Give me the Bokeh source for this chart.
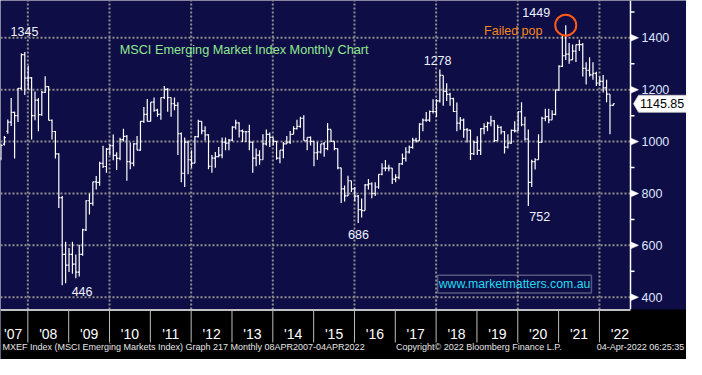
import pandas as pd
from bokeh.plotting import figure
from bokeh.models import Range1d, Label, BoxAnnotation, ColumnDataSource
from bokeh.embed import file_html
from bokeh.resources import INLINE
from bokeh.core.properties import value

# ---------------- data: MXEF monthly OHLC, Apr-2007 .. Apr-2022 ----------------
first_month = "2007-04-01"
open_px = [
    935, 990, 1040, 1075, 1113, 1100, 1205, 1335, 1245,                       # 2007
    1246, 1100, 1160, 1104, 1190, 1212, 1082, 1039, 953, 784, 565, 524,       # 2008
    565, 528, 497, 565, 660, 772, 762, 845, 843, 916, 904, 971,               # 2009
    984, 947, 935, 1008, 1020, 923, 917, 991, 967, 1078, 1105, 1078,          # 2010
    1152, 1121, 1105, 1170, 1201, 1170, 1146, 1140, 1031, 878, 998, 930,      # 2011
    917, 1019, 1078, 1041, 1026, 905, 936, 942, 948, 998, 994, 1006,          # 2012
    1056, 1072, 1041, 1038, 1038, 998, 936, 948, 930, 991, 1028, 1016,        # 2013
    1001, 936, 967, 991, 998, 1028, 1050, 1059, 1090, 1004, 1016, 1001,       # 2014
    957, 960, 991, 973, 1047, 1001, 973, 899, 818, 791, 849, 818,             # 2015
    790, 738, 734, 833, 837, 800, 825, 874, 898, 898, 898, 855,               # 2016
    862, 914, 935, 960, 978, 1006, 1003, 1067, 1083, 1083, 1116, 1116,        # 2017
    1157, 1255, 1194, 1182, 1166, 1116, 1071, 1083, 1046, 1044, 954, 997,     # 2018
    966, 1050, 1058, 1071, 1080, 1004, 1055, 1038, 979, 994, 1043, 1041,      # 2019
    1115, 1065, 1010, 843, 923, 930, 997, 1090, 1096, 1084, 1105, 1199,       # 2020
    1290, 1331, 1337, 1315, 1349, 1374, 1374, 1282, 1275, 1257, 1263, 1226,   # 2021
    1232, 1207, 1183, 1140,                                                   # 2022
]
high_px = [
    992, 1022, 1085, 1168, 1115, 1207, 1340, 1345, 1292,
    1249, 1193, 1168, 1195, 1252, 1214, 1085, 1041, 955, 790, 614, 590,
    614, 565, 602, 664, 774, 799, 845, 867, 922, 984, 975, 990,
    1027, 959, 1015, 1050, 1025, 997, 994, 1022, 1078, 1133, 1164, 1152,
    1170, 1127, 1170, 1214, 1207, 1170, 1170, 1152, 1035, 1016, 1004, 967,
    1022, 1084, 1078, 1059, 1028, 948, 960, 979, 1016, 1016, 1010, 1059,
    1084, 1075, 1047, 1041, 1065, 998, 973, 967, 1028, 1047, 1035, 1016,
    1001, 967, 998, 1022, 1041, 1059, 1084, 1096, 1102, 1016, 1020, 1001,
    998, 991, 998, 1072, 1047, 1001, 973, 899, 831, 868, 849, 825,
    794, 781, 837, 856, 843, 843, 874, 917, 929, 911, 898, 874,
    917, 954, 978, 985, 1015, 1015, 1071, 1089, 1114, 1120, 1163, 1163,
    1278, 1255, 1225, 1188, 1169, 1151, 1095, 1089, 1052, 1046, 1003, 1021,
    1052, 1071, 1077, 1100, 1082, 1065, 1059, 1041, 1028, 1047, 1078, 1115,
    1152, 1096, 1047, 930, 936, 1028, 1096, 1127, 1127, 1121, 1201, 1294,
    1407, 1449, 1380, 1374, 1374, 1393, 1380, 1306, 1325, 1306, 1269, 1251,
    1257, 1238, 1183, 1147,
]
low_px = [
    928, 985, 1030, 1060, 935, 1076, 1200, 1180, 1200,
    1008, 1082, 1040, 1100, 1187, 1082, 1008, 935, 744, 446, 454, 497,
    491, 473, 480, 560, 655, 719, 753, 815, 830, 898, 880, 947,
    928, 891, 928, 1000, 849, 893, 905, 967, 965, 1072, 1078, 1078,
    1115, 1096, 1084, 1164, 1115, 1096, 1121, 948, 843, 825, 874, 899,
    917, 1016, 1028, 1004, 893, 880, 899, 940, 936, 967, 967, 1001,
    1047, 1016, 998, 998, 967, 880, 905, 911, 930, 985, 979, 985,
    930, 917, 936, 991, 991, 1028, 1047, 1053, 1004, 967, 985, 905,
    930, 954, 942, 967, 998, 967, 893, 763, 769, 790, 806, 769,
    686, 707, 734, 815, 782, 790, 818, 870, 886, 886, 837, 843,
    855, 911, 923, 954, 972, 997, 1003, 1040, 1077, 1077, 1108, 1095,
    1151, 1138, 1157, 1138, 1114, 1040, 1046, 1015, 997, 929, 948, 948,
    948, 1028, 1040, 1059, 998, 1004, 1028, 954, 973, 992, 1035, 1041,
    1059, 1004, 752, 825, 892, 930, 997, 1078, 1071, 1084, 1102, 1195,
    1288, 1315, 1300, 1315, 1307, 1349, 1251, 1220, 1251, 1238, 1214, 1214,
    1189, 1152, 1028, 1138,
]
close_px = [
    985, 1015, 1075, 1113, 1100, 1205, 1335, 1245, 1246,
    1100, 1160, 1104, 1190, 1212, 1082, 1039, 953, 784, 565, 524, 565,
    528, 497, 565, 660, 772, 762, 845, 843, 916, 904, 971, 984,
    947, 935, 1008, 1020, 923, 917, 991, 967, 1078, 1105, 1078, 1152,
    1121, 1105, 1170, 1201, 1170, 1146, 1140, 1031, 878, 998, 930, 917,
    1019, 1078, 1041, 1026, 905, 936, 942, 948, 998, 994, 1006, 1056,
    1072, 1041, 1038, 1038, 998, 936, 948, 930, 991, 1028, 1016, 1001,
    936, 967, 991, 998, 1028, 1050, 1059, 1090, 1004, 1016, 1001, 957,
    960, 991, 973, 1047, 1001, 973, 899, 818, 791, 849, 818, 790,
    738, 734, 833, 837, 800, 825, 874, 898, 898, 898, 855, 862,
    914, 935, 960, 978, 1006, 1003, 1067, 1083, 1083, 1116, 1116, 1157,
    1255, 1194, 1182, 1166, 1116, 1071, 1083, 1046, 1044, 954, 997, 966,
    1050, 1058, 1071, 1080, 1004, 1055, 1038, 979, 994, 1043, 1041, 1115,
    1065, 1010, 843, 923, 930, 997, 1090, 1096, 1084, 1105, 1199, 1290,
    1331, 1337, 1315, 1349, 1374, 1374, 1282, 1275, 1257, 1263, 1226, 1232,
    1207, 1183, 1140, 1145.85,
]
last_price = 1145.85
y_ticks = [400, 600, 800, 1000, 1200, 1400]
y_minor = [500, 700, 900, 1100, 1300, 1500]
grid_years = [2008, 2010, 2012, 2014, 2016, 2018, 2020, 2022]
label_years = list(range(2007, 2023))
year_labels = ["'%02d" % (y % 100) for y in label_years]
title_text = "MSCI Emerging Market Index Monthly Chart"
footer_left = "MXEF Index (MSCI Emerging Markets Index) Graph 217  Monthly 08APR2007-04APR2022"
footer_mid = "Copyright\u00a9 2022 Bloomberg Finance L.P."
footer_right = "04-Apr-2022 06:25:35"

# ---------------- layout / style ----------------
NAVY = "#0e0d46"
GRID = "#8e8e8e"
W, H = 686, 359                 # whole canvas
FRAME_W, TOP_H = 630, 309       # price area (left of the value scale, above the date strip)
X0, X1 = 2007.330, 2022.761     # years shown across the price area
Y0, Y1 = 352.7, 1544.0          # index values shown down the price area
XPX = (X1 - X0) / FRAME_W       # years per pixel
YPX = (Y1 - Y0) / TOP_H         # index points per pixel
XE = X0 + W * XPX
YB = Y1 - H * YPX
BAR_SHIFT = 0.05
HW = 0.45 / 12
FONT = "Liberation Sans"

months = pd.date_range(first_month, periods=len(close_px), freq="MS")
t = [d.year + (d.month - 0.5) / 12 + BAR_SHIFT for d in months]

src = ColumnDataSource(dict(t=t, o=open_px, h=high_px, l=low_px, c=close_px,
                            tl=[x - HW for x in t], tr=[x + HW for x in t]))

p = figure(width=W, height=H, x_range=Range1d(X0, XE), y_range=Range1d(YB, Y1),
           x_axis_type=None, y_axis_type=None, toolbar_location=None,
           output_backend="svg", min_border=0,
           background_fill_color=NAVY, border_fill_color=NAVY, outline_line_color=None)

# dotted grid
p.segment(x0=[X0] * len(y_ticks), y0=y_ticks, x1=[X1] * len(y_ticks), y1=y_ticks,
          line_color=GRID, line_dash="2 2", line_width=2)
p.segment(x0=grid_years, y0=[Y0] * len(grid_years), x1=grid_years, y1=[Y1] * len(grid_years),
          line_color=GRID, line_dash="2 2", line_width=2)

# value scale on the right
p.segment(x0=[X1], y0=[Y0], x1=[X1], y1=[Y1], line_color="white", line_width=1.5)
p.segment(x0=[X1] * len(y_minor), y0=y_minor, x1=[X1 + 4 * XPX] * len(y_minor), y1=y_minor,
          line_color="white", line_width=1.5)
p.patches(xs=[[X1, X1, X1 + 8 * XPX] for v in y_ticks],
          ys=[[v + 3.5 * YPX, v - 3.5 * YPX, v] for v in y_ticks],
          fill_color="white", line_color="white", line_width=0.5)
p.text(x=[X1 + 11 * XPX] * len(y_ticks), y=y_ticks, text=[str(v) for v in y_ticks],
       text_color="#dfe7ff", text_font=value(FONT), text_font_size=value("12.5px"),
       text_align="left", text_baseline="middle")

# OHLC bars
p.segment("t", "l", "t", "h", source=src, line_color="white", line_width=1.2)
p.segment("tl", "o", "t", "o", source=src, line_color="white", line_width=1.2)
p.segment("t", "c", "tr", "c", source=src, line_color="white", line_width=1.2)

# last price tag
p.patch(x=[X1 + 3 * XPX, X1 + 8 * XPX, XE, XE, X1 + 8 * XPX],
        y=[last_price, last_price + 8.5 * YPX, last_price + 8.5 * YPX,
           last_price - 8.5 * YPX, last_price - 8.5 * YPX],
        fill_color="white", line_color="#cfcfcf", line_width=0.8)
p.text(x=[X1 + 9.5 * XPX], y=[last_price], text=["%.2f" % last_price], text_color="black",
       text_font=value(FONT), text_font_size=value("12.5px"), text_align="left",
       text_baseline="middle")

# annotations
def note(x, y, text, color="#eef2ff", size="12.5px", align="center"):
    p.add_layout(Label(x=x, y=y, text=text, text_color=color, text_font=FONT,
                       text_font_size=size, text_align=align, text_baseline="middle"))

note(2007.916, 1426, "1345")
note(2009.328, 421, "446")
note(2016.098, 643, "686")
note(2018.036, 1312, "1278")
note(2020.536, 713, "752")
note(2020.452, 1496, "1449")
note(2019.890, 1426, "Failed pop", color="#f5891f")
note(2010.249, 1353, title_text, color="#8fe88f", size="12.7px", align="left")

imax = max(range(len(high_px)), key=lambda i: high_px[i])
p.scatter([t[imax]], [high_px[imax]], marker="circle", size=21, fill_color=None,
          line_color="#ff5a1a", line_width=2)

p.add_layout(BoxAnnotation(left=2018.036, right=2021.804, bottom=416, top=485,
                           fill_alpha=0, line_color="white", line_width=1.5))
note(2019.920, 450.5, "www.marketmatters.com.au", color="#22dcec", size="12.3px")

# ---------------- date strip ----------------
p.quad(left=[X0], right=[XE], bottom=[YB], top=[Y0], fill_color="black", line_color=None)
p.segment(x0=[X0], y0=[Y0 - 0.6 * YPX], x1=[X1], y1=[Y0 - 0.6 * YPX],
          line_color="white", line_width=1.5)
sep_years = list(range(2008, 2023))
p.segment(x0=sep_years, y0=[Y0] * len(sep_years), x1=sep_years,
          y1=[Y0 - 33 * YPX] * len(sep_years), line_color="#bdbdbd", line_width=1)
label_x = [max(y + 0.5, X0 + 0.31) for y in label_years]
p.text(x=label_x, y=[Y0 - 24.4 * YPX] * len(label_x), text=year_labels, text_color="white",
       text_font=value(FONT), text_font_size=value("14px"), text_align="center",
       text_baseline="middle")
foot_y = Y0 - 37.6 * YPX
p.text(x=[2007.378], y=[foot_y], text=[footer_left], text_color="#e6e6e6",
       text_font=value(FONT), text_font_size=value("9px"), text_baseline="middle")
p.text(x=[2017.019], y=[foot_y], text=[footer_mid], text_color="#e6e6e6",
       text_font=value(FONT), text_font_size=value("9px"), text_baseline="middle")
p.text(x=[2024.077], y=[foot_y], text=[footer_right], text_color="#e6e6e6",
       text_font=value(FONT), text_font_size=value("9px"), text_baseline="middle",
       text_align="right")

open("out.html", "w").write(file_html(p, INLINE, title="MXEF Monthly"))
